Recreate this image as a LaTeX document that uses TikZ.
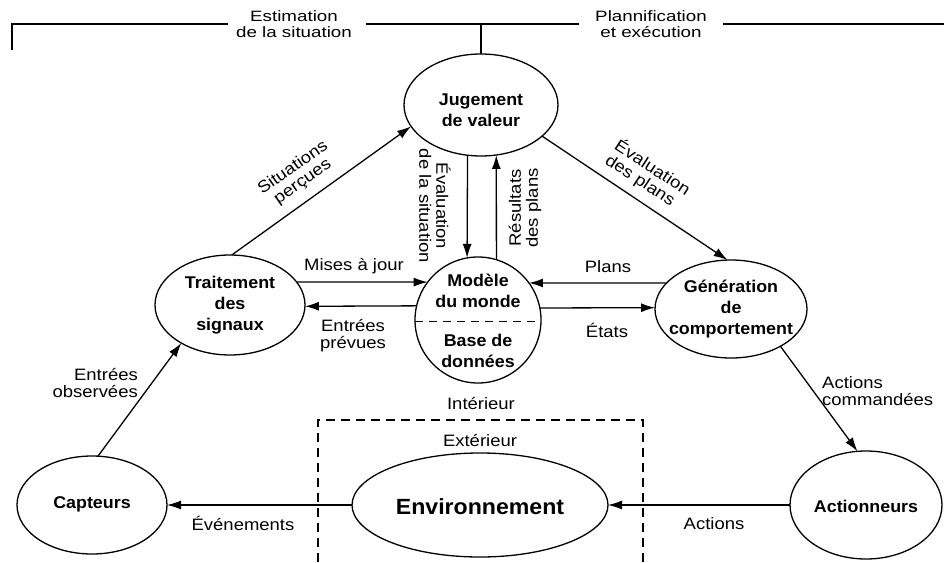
\documentclass[tikz,border=0pt]{standalone}
\usepackage{fontspec}
\setmainfont{Liberation Sans}
\newfontfamily\nodefont[FakeStretch=1.05]{Liberation Sans}
\newfontfamily\lblfont[FakeStretch=1.12]{Liberation Sans}
\newfontfamily\headfont[FakeStretch=1.25]{Liberation Sans}
\usetikzlibrary{arrows.meta,shapes.geometric}

\begin{document}
\begin{tikzpicture}[x=1pt,y=-1pt,
  bubble/.style={draw, line width=1.3pt, ellipse, inner sep=0pt, outer sep=0pt},
  nodetext/.style={align=center, font=\nodefont\bfseries\fontsize{17}{21}\selectfont, inner sep=0pt},
  lbl/.style={align=center, font=\lblfont\fontsize{16.5}{17}\selectfont, inner sep=0pt},
  head/.style={align=center, font=\headfont\fontsize{15}{16}\selectfont, inner sep=0pt},
  flow/.style={line width=1.3pt, -{Latex[length=14pt,width=9pt]}},
  rule/.style={line width=1.1pt},
  fence/.style={line width=1.1pt, dash pattern=on 9pt off 6pt}]

\useasboundingbox (0,0) rectangle (944,562);

% ---- headings along the top rule
\node[head] (est) at (294,24) {Estimation\\de la situation};
\node[head] (plan) at (651,24) {Plannification\\et exécution};

% ---- processes
\node[bubble, minimum width=154pt, minimum height=102pt] (J) at (481,105) {};
\node[nodetext] (Jt) at (481,110) {Jugement\\de valeur};

\node[bubble, circle, minimum size=126pt] (M) at (478,320) {};
\node[nodetext] (Mt) at (478,291) {Modèle\\du monde};
\node[nodetext] (Mb) at (478,351) {Base de\\données};
\draw[line width=0.9pt, dash pattern=on 8pt off 6pt] (M.181.8) -- (M.-1.8);

\node[bubble, minimum width=150pt, minimum height=100pt] (T) at (230,305) {};
\node[nodetext] (Tt) at (230,305) {Traitement\\des\\signaux};

\node[bubble, minimum width=152pt, minimum height=98pt] (G) at (731,309) {};
\node[nodetext] (Gt) at (731,309) {Génération\\de\\comportement};

\node[bubble, minimum width=150pt, minimum height=98pt] (C) at (92,505) {};
\node[nodetext] (Ct) at (92,504) {Capteurs};

\node[bubble, minimum width=256pt, minimum height=104pt] (E) at (480,505) {};
\node[nodetext, font=\nodefont\bfseries\fontsize{22}{24}\selectfont] (Et) at (480,507) {Environnement};

\node[bubble, minimum width=152pt, minimum height=108pt] (A) at (866,505) {};
\node[nodetext] (At) at (866,506) {Actionneurs};

% ---- top rule
\coordinate (corner) at (12,50);
\coordinate (rightend) at (944,24);
\draw[rule] (corner) |- ([xshift=-8pt]est.west);
\draw[rule] ([xshift=14pt]est.east) -- ([xshift=-16pt]plan.west);
\draw[rule] (J.north) -- (J.north |- est.east);
\draw[rule] ([xshift=16pt]plan.east) -- (rightend);

% ---- inside / outside boundary
\coordinate (fbl) at (318,562);
\coordinate (ftl) at (318,420);
\coordinate (ftr) at (643,420);
\coordinate (fbr) at (643,562);
\draw[fence] (fbl) -- (ftl) -- (ftr) -- (fbr);

% ---- flows
\draw[flow] (C.83) -- (T.218);
\draw[flow] (T.88) -- (J.197);
\draw[flow] (J.-27) -- (G.94);
\draw[flow] (J.-105.6) -- (M.100);
\draw[flow] (M.73.4) -- (J.-73.3);
\draw[flow] (T.19) -- (M.143);
\draw[flow] (M.167) -- (T.-1);
\draw[flow] (G.158) -- (M.36);
\draw[flow] (M.11) -- (G.179);
\draw[flow] (G.-37) -- (A.99);
\draw[flow] (A.180) -- (E.0);
\draw[flow] (E.180) -- (C.0);

% ---- flow labels
\node[lbl, align=right, anchor=east] (lobs) at (138,383) {Entrées\\observées};
\node[lbl, rotate=35] (lsit) at (298,175) {Situations\\perçues};
\node[lbl, align=left, rotate=-33] (levp) at (648,175) {Évaluation\\des plans};
\node[lbl, rotate=-90] (levs) at (435,206) {Évaluation\\de la situation};
\node[lbl, rotate=90] (lres) at (525,208) {Résultats\\des plans};
\node[lbl] (lmaj) at (354,266) {Mises à jour};
\node[lbl] (lprev) at (353,336) {Entrées\\prévues};
\node[lbl] (lplans) at (608,267) {Plans};
\node[lbl] (letats) at (607,330) {États};
\node[lbl, align=left, anchor=west] (lcmd) at (822,391) {Actions\\commandées};
\node[lbl] (lint) at (481,403) {Intérieur};
\node[lbl] (lext) at (480,440) {Extérieur};
\node[lbl] (lev) at (243,523) {Événements};
\node[lbl] (lact) at (714,524) {Actions};
\end{tikzpicture}
\end{document}
